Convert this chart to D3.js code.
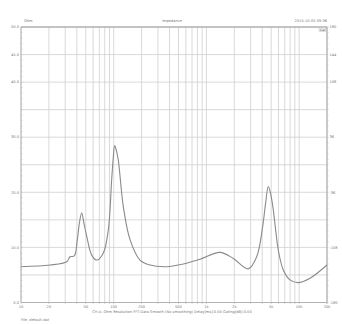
<!DOCTYPE html>
<html><head><meta charset="utf-8">
<script src="https://cdn.jsdelivr.net/npm/d3@7/dist/d3.min.js"></script>
<style>body{margin:0;background:#fff}svg{display:block}text{font-family:"DejaVu Sans",sans-serif;fill:#777}</style>
</head><body><svg id="c" width="342" height="324"></svg>
<script>
const freqs = [10,20.6,31.1,33.8,37.6,40.5,42.8,45.2,47.8,51.2,57.9,65.6,77.3,87.5,95.1,98.6,102.5,107,112,127,150,192,246,373,563,853,1402,1950,2830,3488,4048,4350,4653,4950,5268,5600,5965,6753,7977,9800,13110,20000];
const ohms  = [6.5,6.8,7.4,8.3,8.45,11.4,14.6,16.3,14.3,12.0,8.6,7.7,9.0,13.2,22.3,26.0,28.5,27.5,25.9,17.4,11.4,7.7,6.8,6.5,7.0,7.85,9.1,8.0,6.1,8.3,13.8,18.0,21.05,19.6,16.8,13.0,9.5,5.9,4.1,3.6,4.4,6.8];
const xTickVals = [10,20,50,100,200,500,1000,2000,5000,10000,20000];
const xTickLabels = ["10","20","50","100","200","500","1k","2k","5k","10k","20k"];
const yTickVals = [0,10,20,30,40,45,50];
const yTickLabels = ["0.0","10.0","20.0","30.0","40.0","45.0","50.0"];
const y2TickLabels = ["-180","-108","-36","36","108","144","180"];

const svg = d3.select("#c");
const L=21,R=327,T=27,B=302.5;
const x = d3.scaleLog().domain([10,20000]).range([L,R]);
const y = d3.scaleLinear().domain([0,50]).range([B,T]);

const gridF=[];
for(let d=10; d<20000; d*=10){ for(let k=1;k<10;k++){ const f=d*k; if(f<=20000) gridF.push(f);} }
gridF.push(20000);
svg.append("g").selectAll("line").data(gridF).join("line")
  .attr("x1",d=>x(d)).attr("x2",d=>x(d)).attr("y1",T).attr("y2",B)
  .attr("stroke","#cfcfcf").attr("stroke-width",0.8);
const hy=d3.range(0,51,5);
svg.append("g").selectAll("line").data(hy).join("line")
  .attr("x1",L).attr("x2",R).attr("y1",d=>y(d)).attr("y2",d=>y(d))
  .attr("stroke","#cfcfcf").attr("stroke-width",0.8);

svg.append("line").attr("x1",L).attr("x2",R).attr("y1",T).attr("y2",T).attr("stroke","#999").attr("stroke-width",1.2);
svg.append("line").attr("x1",L).attr("x2",R).attr("y1",B).attr("y2",B).attr("stroke","#aaa").attr("stroke-width",0.8);
svg.append("line").attr("x1",L).attr("x2",L).attr("y1",T).attr("y2",B).attr("stroke","#aaa").attr("stroke-width",0.8);
svg.append("line").attr("x1",R).attr("x2",R).attr("y1",T).attr("y2",B).attr("stroke","#aaa").attr("stroke-width",0.8);

const minor=d3.range(0,50.01,1);
svg.append("g").selectAll("line").data(minor).join("line")
  .attr("x1",L).attr("x2",L+1.5).attr("y1",d=>y(d)).attr("y2",d=>y(d)).attr("stroke","#bbb").attr("stroke-width",0.6);
svg.append("g").selectAll("line").data(minor).join("line")
  .attr("x1",R).attr("x2",R+1.5).attr("y1",d=>y(d)).attr("y2",d=>y(d)).attr("stroke","#bbb").attr("stroke-width",0.6);
svg.append("g").selectAll("line").data(gridF).join("line")
  .attr("x1",d=>x(d)).attr("x2",d=>x(d)).attr("y1",B).attr("y2",B+1.5).attr("stroke","#bbb").attr("stroke-width",0.6);

const fs=3.6;
svg.append("g").selectAll("text").data(xTickVals).join("text")
  .attr("x",d=>x(d)).attr("y",B+5.5).attr("text-anchor","middle").attr("font-size",fs)
  .text((d,i)=>xTickLabels[i]);
svg.append("g").selectAll("text").data(yTickVals).join("text")
  .attr("x",L-2).attr("y",d=>y(d)+1.2).attr("text-anchor","end").attr("font-size",fs)
  .text((d,i)=>yTickLabels[i]);
svg.append("g").selectAll("text").data(yTickVals).join("text")
  .attr("x",R+2.5).attr("y",d=>y(d)+1.2).attr("text-anchor","start").attr("font-size",fs)
  .text((d,i)=>y2TickLabels[i]);

svg.append("text").attr("x",L+3).attr("y",22).attr("font-size",fs).text("Ohm");
svg.append("text").attr("x",172).attr("y",22).attr("text-anchor","middle").attr("font-size",fs).text("Impedance");
svg.append("text").attr("x",R).attr("y",22).attr("text-anchor","end").attr("font-size",fs).text("2015-10-05 09:36");
svg.append("rect").attr("x",R-8).attr("y",T+0.6).attr("width",7).attr("height",4).attr("fill","#eee").attr("stroke","#bbb").attr("stroke-width",0.4);
svg.append("text").attr("x",R-4.5).attr("y",T+3.8).attr("text-anchor","middle").attr("font-size",3.2).attr("style","fill:#555").text("Cal");
svg.append("text").attr("x",172).attr("y",313).attr("text-anchor","middle").attr("font-size",fs)
  .text("CH-A: Ohm   Resolution FFT-Data   Smooth (No smoothing)   Delay[ms]:0.00   Gating[dB]:0.00");
svg.append("text").attr("x",L).attr("y",320.5).attr("font-size",fs).text("File: default.dat");

const line=d3.line().x(d=>x(d[0])).y(d=>y(d[1])).curve(d3.curveCatmullRom.alpha(0.5));
svg.append("path").datum(freqs.map((f,i)=>[f,ohms[i]])).attr("d",line)
  .attr("fill","none").attr("stroke","#8a8a8a").attr("stroke-width",1.1);
</script></body></html>
